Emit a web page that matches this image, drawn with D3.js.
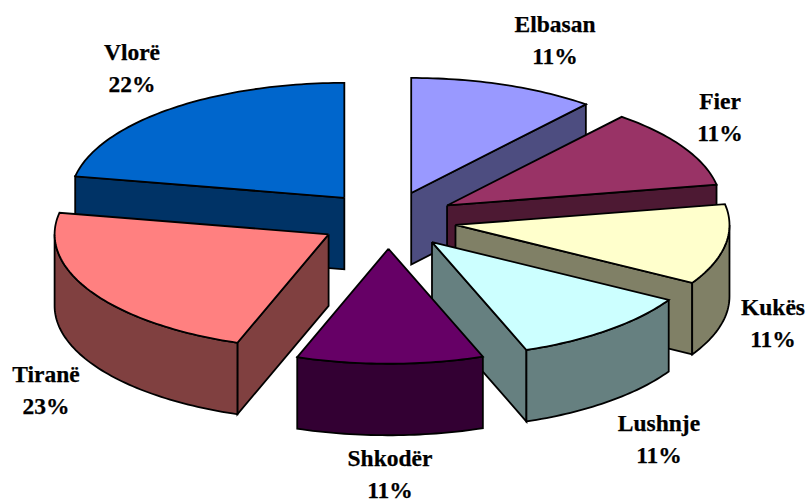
<!DOCTYPE html>
<html>
<head>
<meta charset="utf-8">
<script src="https://cdn.jsdelivr.net/npm/d3@7"></script>
<style>
html,body{margin:0;padding:0;background:#fff;}
svg{display:block;}
text{font-family:"Liberation Serif","Times New Roman",serif;font-weight:bold;font-size:23.5px;fill:#000;stroke:#000;stroke-width:.25px;}
</style>
</head>
<body>
<div id="chart"></div>
<script>
const categories = ["Elbasan","Fier","Kukës","Lushnje","Shkodër","Tiranë","Vlorë"];
const shares = [11.0,11.1,11.3,11.0,11.0,22.6,22.0];
const topColors = ["#9999FF","#993366","#FFFFCC","#CCFFFF","#660066","#FF8080","#0066CC"];
const sideColors = ["#4D4D80","#4D1933","#808066","#668080","#330033","#804040","#003366"];

// layout (not data)
const W = 807, H = 502;
const center = {x:388, y:220}, rx = 274, ry = 115, depth = 71.5, explode = 0.25;
const labelAnchors = {
  "Elbasan":[555,32], "Fier":[720,109], "Kukës":[773,315], "Lushnje":[659,431],
  "Shkodër":[390,466], "Tiranë":[46,382], "Vlorë":[132,60]
};
const lineGap = 31.5;
const paintOrder = ["Vlorë","Elbasan","Fier","Kukës","Lushnje","Tiranë","Shkodër"];

const svg = d3.select("#chart").append("svg").attr("width",W).attr("height",H);

const pie = d3.pie().sort(null).value(d => d.share);
const arcs = pie(categories.map((name,i)=>({name,share:shares[i],top:topColors[i],side:sideColors[i]})));
const x = d3.scaleLinear().domain([-1,1]).range([-rx,rx]);
const y = d3.scaleLinear().domain([-1,1]).range([ry,-ry]);
const line = d3.line().x(p=>p[0]).y(p=>p[1]);

function rimPoint(apex,a,dz=0){ return [apex[0]+x(Math.sin(a)), apex[1]+y(Math.cos(a))+dz]; }
function rim(apex,a0,a1,dz=0){
  const n = Math.max(2,Math.ceil((a1-a0)/0.02));
  return d3.range(n+1).map(i=>rimPoint(apex,a0+(a1-a0)*i/n,dz));
}
const faceAttrs = (sel,fill)=>sel.attr("fill",fill).attr("stroke","#000").attr("stroke-width",1.8).attr("stroke-linejoin","miter");

const byName = new Map(arcs.map(a=>[a.data.name,a]));
const g = svg.append("g");
paintOrder.forEach(name=>{
  const d = byName.get(name);
  const mid = (d.startAngle+d.endAngle)/2;
  const apex = [center.x+explode*x(Math.sin(mid)), center.y+explode*y(Math.cos(mid))];
  const s = g.append("g").attr("class","slice");
  const midPt = rimPoint(apex,mid);
  // radial side faces: visible when slice interior lies above the edge
  [d.startAngle,d.endAngle].forEach(a=>{
    const p = rimPoint(apex,a);
    const cross = (p[0]-apex[0])*(midPt[1]-apex[1])-(p[1]-apex[1])*(midPt[0]-apex[0]);
    const above = (p[0]>apex[0]) ? cross<0 : cross>0;
    if(Math.abs(p[0]-apex[0])>1 && above){
      const quad=[apex,p,[p[0],p[1]+depth],[apex[0],apex[1]+depth],apex];
      s.append("path").attr("d",line(quad)).call(faceAttrs,d.data.side);
    }
  });
  // outer wall
  const lo=Math.max(d.startAngle,Math.PI/2), hi=Math.min(d.endAngle,Math.PI*1.5);
  if(hi>lo){
    const pts = rim(apex,lo,hi).concat(rim(apex,lo,hi,depth).reverse());
    pts.push(pts[0]);
    s.append("path").attr("d",line(pts)).call(faceAttrs,d.data.side);
  }
  // top
  const top=[apex].concat(rim(apex,d.startAngle,d.endAngle),[apex]);
  s.append("path").attr("d",line(top)).call(faceAttrs,d.data.top);
});

arcs.forEach(d=>{
  const [lx,ly]=labelAnchors[d.data.name];
  const t=svg.append("text").attr("text-anchor","middle");
  t.append("tspan").attr("x",lx).attr("y",ly).text(d.data.name);
  t.append("tspan").attr("x",lx).attr("y",ly+lineGap).text(d3.format(".0f")(d.data.share)+"%");
});
</script>
</body>
</html>
